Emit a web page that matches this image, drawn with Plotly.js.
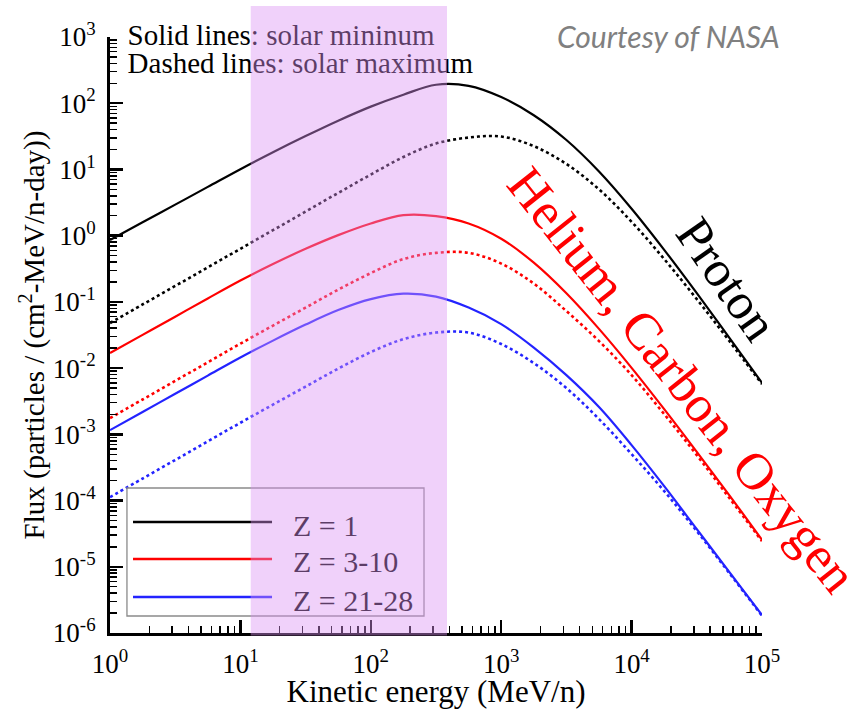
<!DOCTYPE html>
<html>
<head>
<meta charset="utf-8">
<script src="https://cdn.plot.ly/plotly-3.0.1.min.js"></script>
<style>
  html, body { margin: 0; padding: 0; background: #ffffff; }
  #chart { width: 866px; height: 709px; }
</style>
</head>
<body>
<div id="chart"></div>
<script>
// Kinetic energy grid (MeV/n), quarter-decade steps
const energy = [1, 1.778, 3.162, 5.623, 10, 17.78, 31.62, 56.23, 100, 177.8, 316.2, 562.3,
                1000, 1778, 3162, 5623, 10000, 17780, 31620, 56230, 100000];

// Flux, particles / (cm^2-MeV/n-day)
// Z = 1 (protons)
const z1SolarMin = [0.859, 1.59, 2.94, 5.45, 10.1, 18.2, 31.9, 54.5, 88.9, 134.6, 190, 183,
                    124, 65.9, 27.8, 9.31, 2.55, 0.611, 0.1354, 0.0286, 0.00598];
const z1SolarMax = [0.0479, 0.0914, 0.174, 0.332, 0.634, 1.21, 2.31, 4.42, 8.37, 15.4, 24.6, 30.3,
                    31.4, 22.5, 12.1, 5.0, 1.62, 0.443, 0.110, 0.0256, 0.00573];
// Z = 3-10 (He, C, O group)
const z3SolarMin = [0.01686, 0.0318, 0.0598, 0.1127, 0.210, 0.373, 0.634, 1.02, 1.53, 2.04, 1.97, 1.53,
                    0.90, 0.391, 0.135, 0.0391, 0.0101, 0.0024, 5.43e-4, 1.20e-4, 2.54e-5];
const z3SolarMax = [0.001757, 0.003357, 0.00641, 0.01225, 0.0234, 0.0439, 0.0820, 0.153, 0.272, 0.443, 0.55, 0.55,
                    0.379, 0.189, 0.0726, 0.0256, 0.00783, 0.00202, 4.85e-4, 1.09e-4, 2.44e-5];
// Z = 21-28 (iron group)
const z21SolarMin = [0.001156, 0.002178, 0.00409, 0.00771, 0.01446, 0.0260, 0.0454, 0.0752, 0.110, 0.133, 0.120, 0.0820,
                     0.0462, 0.0204, 0.00783, 0.00258, 6.87e-4, 1.65e-4, 3.70e-5, 8.28e-6, 1.86e-6];
const z21SolarMax = [1.125e-4, 2.15e-4, 4.10e-4, 7.83e-4, 0.001496, 0.00281, 0.00526, 0.00982, 0.01746, 0.0274, 0.0344, 0.0344,
                     0.0231, 0.0119, 0.00499, 0.00170, 5.02e-4, 1.39e-4, 3.45e-5, 8.0e-6, 1.82e-6];

const seriesNames = ['Z = 1', 'Z = 3-10', 'Z = 21-28'];
const seriesColors = ['#000000', '#ff0000', '#2323ff'];

// Axis ticks
const xTickVals = [1, 10, 100, 1000, 10000, 100000];
const xTickText = ['10<sup>0</sup>', '10<sup>1</sup>', '10<sup>2</sup>', '10<sup>3</sup>', '10<sup>4</sup>', '10<sup>5</sup>'];
const yTickVals = [1e-6, 1e-5, 1e-4, 1e-3, 1e-2, 1e-1, 1, 10, 100, 1000];
const yTickText = ['10<sup>-6</sup>', '10<sup>-5</sup>', '10<sup>-4</sup>', '10<sup>-3</sup>', '10<sup>-2</sup>',
                   '10<sup>-1</sup>', '10<sup>0</sup>', '10<sup>1</sup>', '10<sup>2</sup>', '10<sup>3</sup>'];

// Highlighted energy band (MeV/n)
const bandEnergy = [12, 384];

const serif = 'Liberation Serif, Times New Roman, serif';

function minorTicks(decades) {
  const out = [];
  for (let i = 0; i < decades.length - 1; i++) {
    for (let m = 2; m <= 9; m++) out.push(decades[i] * m);
  }
  return out;
}

const minSets = [z1SolarMin, z3SolarMin, z21SolarMin];
const maxSets = [z1SolarMax, z3SolarMax, z21SolarMax];

const traces = [];
for (let i = 0; i < seriesNames.length; i++) {
  traces.push({
    x: energy, y: minSets[i], type: 'scatter', mode: 'lines',
    name: seriesNames[i] + ' (solar minimum)', showlegend: false, hoverinfo: 'skip',
    line: { color: seriesColors[i], width: 2.2, shape: 'spline', smoothing: 1 }
  });
  traces.push({
    x: energy, y: maxSets[i], type: 'scatter', mode: 'lines',
    name: seriesNames[i] + ' (solar maximum)', showlegend: false, hoverinfo: 'skip',
    line: { color: seriesColors[i], width: 2.6, dash: '3px,3px', shape: 'spline', smoothing: 1 }
  });
}

const axisCommon = {
  type: 'log',
  showline: true, linecolor: '#000', linewidth: 3,
  showgrid: false, zeroline: false,
  ticks: 'inside', ticklen: 13, tickwidth: 2.5, tickcolor: '#000',
  tickmode: 'array',
  tickfont: { family: serif, size: 27, color: '#000' }
};

const shapes = [];

// Heading notes (drawn in the shape layer, under the highlighted band)
const noteLines = ['Solid lines: solar mininum', 'Dashed lines: solar maximum'];
const noteY = [1.0085, 0.9614];
noteLines.forEach((t, k) => {
  shapes.push({
    type: 'line', xref: 'paper', yref: 'paper',
    x0: 0.027, x1: 0.3, y0: noteY[k], y1: noteY[k],
    line: { color: 'rgba(0,0,0,0)', width: 1 },
    label: { text: t, textposition: 'start', xanchor: 'left', yanchor: 'middle',
             textangle: 0, padding: 0, font: { family: serif, size: 29, color: '#000' } }
  });
});

// Legend drawn as labelled line shapes inside a framed box
const legendRows = [0.1862, 0.1242, 0.0604];
shapes.push({
  type: 'rect', xref: 'paper', yref: 'paper',
  x0: 0.026, x1: 0.4816, y0: 0.0285, y1: 0.2433,
  line: { color: '#8a8a8a', width: 1.3 }, fillcolor: 'rgba(0,0,0,0)'
});
seriesNames.forEach((nm, k) => {
  shapes.push({
    type: 'line', xref: 'paper', yref: 'paper',
    x0: 0.0353, x1: 0.2485, y0: legendRows[k], y1: legendRows[k],
    line: { color: seriesColors[k], width: 2.5 },
    label: { text: nm, textposition: 'end', xanchor: 'left', yanchor: 'middle',
             textangle: 0, padding: 21, font: { family: serif, size: 30, color: '#000' } }
  });
});

// Highlighted band, translucent and on top
shapes.push({
  type: 'rect', xref: 'x', yref: 'paper',
  x0: bandEnergy[0], x1: bandEnergy[1], y0: -0.004, y1: 1.052,
  fillcolor: 'rgb(220,146,244)', opacity: 0.42, line: { width: 0 }, layer: 'above'
});

const layout = {
  width: 866, height: 709,
  margin: { l: 110, r: 104, t: 37, b: 76 },
  paper_bgcolor: '#ffffff', plot_bgcolor: '#ffffff',
  showlegend: false,
  xaxis: Object.assign({}, axisCommon, {
    range: [0, 5],
    tickvals: xTickVals, ticktext: xTickText,
    ticklabelstandoff: 5,
    minor: { tickmode: 'array', tickvals: minorTicks(xTickVals), ticks: 'inside', ticklen: 7, tickwidth: 1.5, tickcolor: '#000' },
    title: { text: 'Kinetic energy (MeV/n)', font: { family: serif, size: 31, color: '#000' }, standoff: 11 }
  }),
  yaxis: Object.assign({}, axisCommon, {
    range: [-6, 3],
    tickvals: yTickVals, ticktext: yTickText,
    ticklabelstandoff: 6,
    minor: { tickmode: 'array', tickvals: minorTicks(yTickVals), ticks: 'inside', ticklen: 7, tickwidth: 1.5, tickcolor: '#000' },
    title: { text: 'Flux (particles / (cm<sup>2</sup>-MeV/n-day))', font: { family: serif, size: 29, color: '#000' }, standoff: 0 }
  }),
  shapes: shapes,
  annotations: [
    { text: 'Courtesy of NASA', xref: 'paper', yref: 'paper', x: 0.856, y: 1.002,
      showarrow: false, xanchor: 'center', yanchor: 'middle',
      font: { family: 'Lato, Open Sans, sans-serif', size: 30, color: '#808080', style: 'italic' } },
    { text: 'Proton', xref: 'paper', yref: 'paper', x: 0.946, y: 0.594,
      showarrow: false, textangle: 55, xanchor: 'center', yanchor: 'middle',
      font: { family: serif, size: 51, color: '#000' } },
    { text: 'Helium, Carbon, Oxygen', xref: 'paper', yref: 'paper', x: 0.877, y: 0.4245,
      showarrow: false, textangle: 51.5, xanchor: 'center', yanchor: 'middle',
      font: { family: serif, size: 52, color: '#ff0000' } }
  ]
};

Plotly.newPlot('chart', traces, layout, { staticPlot: true, displayModeBar: false });
</script>
</body>
</html>
